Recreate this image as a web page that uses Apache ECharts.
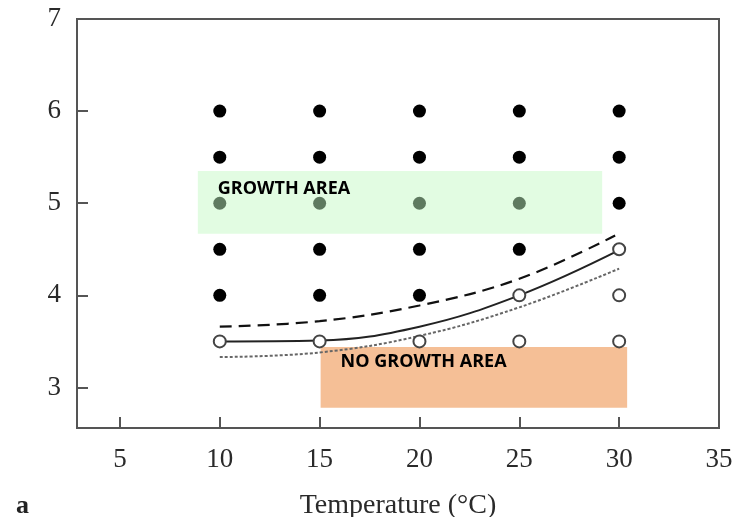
<!DOCTYPE html>
<html>
<head>
<meta charset="utf-8">
<script src="https://cdn.jsdelivr.net/npm/echarts@6/dist/echarts.min.js"></script>
<style>html,body{margin:0;padding:0;background:#fff;}#c{width:736px;height:517px;}</style>
</head>
<body>
<div id="c"></div>
<script>
// ---- data ----
const xTicks = [5, 10, 15, 20, 25, 30, 35];
const yTicks = [3, 4, 5, 6, 7];

const growthTemp = [10,10,10,10,10, 15,15,15,15,15, 20,20,20,20,20, 25,25,25,25, 30,30,30];
const growthPH   = [4,4.5,5,5.5,6,  4,4.5,5,5.5,6,  4,4.5,5,5.5,6,  4.5,5,5.5,6,  5,5.5,6];

const noGrowthTemp = [10, 15, 20, 25, 25, 30, 30, 30];
const noGrowthPH   = [3.5, 3.5, 3.5, 3.5, 4, 3.5, 4, 4.5];

const modelTemp      = [10, 15, 20, 25, 30];
const modelMid       = [3.5, 3.51, 3.66, 4.0, 4.49];
const modelUpperTemp = [10, 15, 20, 25, 29.8];
const modelUpper     = [3.66, 3.72, 3.89, 4.18, 4.65];
const modelLower     = [3.33, 3.38, 3.56, 3.87, 4.29];

const growthAreaX   = [8.9, 29.15];
const growthAreaY   = [4.67, 5.35];
const noGrowthAreaX = [15.05, 30.4];
const noGrowthAreaY = [2.78, 3.44];

// ---- chart ----
const zip = (a, b) => a.map((v, i) => [v, b[i]]);
const inGrowth = (p) => p[0] >= growthAreaX[0] && p[0] <= growthAreaX[1] && p[1] >= growthAreaY[0] && p[1] <= growthAreaY[1];

const chart = echarts.init(document.getElementById('c'), null, {renderer: 'canvas'});
const serif = 'Liberation Serif';
const axisCol = '#555';

chart.setOption({
  animation: false,
  grid: {left: 77, right: 17, top: 19, bottom: 89, outerBoundsMode: 'none', containLabel: false,
         show: true, borderColor: axisCol, borderWidth: 2, backgroundColor: 'transparent'},
  xAxis: {
    type: 'value', min: 2.85, max: 35,
    name: 'Temperature (°C)', nameLocation: 'middle', nameGap: 64,
    nameTextStyle: {fontFamily: serif, fontSize: 28, color: '#2a2a2a'},
    axisLine: {show: true, lineStyle: {color: axisCol, width: 2}},
    axisTick: {show: true, inside: true, length: 11, customValues: xTicks, lineStyle: {color: axisCol, width: 2}},
    axisLabel: {customValues: xTicks, fontFamily: serif, fontSize: 27, color: '#2a2a2a', margin: 18},
    splitLine: {show: false}
  },
  yAxis: {
    type: 'value', min: 2.56, max: 7,
    axisLine: {show: true, lineStyle: {color: axisCol, width: 2}},
    axisTick: {show: true, inside: true, length: 11, customValues: yTicks, lineStyle: {color: axisCol, width: 2}},
    axisLabel: {customValues: yTicks, fontFamily: serif, fontSize: 27, color: '#2a2a2a', margin: 16},
    splitLine: {show: false}
  },
  graphic: [{
    type: 'text', left: 16, top: 493,
    style: {text: 'a', font: 'bold 26px "Liberation Serif"', fill: '#222'}
  }],
  series: [
    {
      type: 'scatter', data: [], z: 1,
      markArea: {
        silent: true,
        data: [
          [{xAxis: growthAreaX[0], yAxis: growthAreaY[1], itemStyle: {color: '#e2fce2', opacity: 1},
            label: {show: true, position: 'insideTopLeft', offset: [15, 4], formatter: 'GROWTH AREA',
                    fontFamily: 'Open Sans', fontWeight: 'bold', fontSize: 18, color: '#000'}},
           {xAxis: growthAreaX[1], yAxis: growthAreaY[0]}],
          [{xAxis: noGrowthAreaX[0], yAxis: noGrowthAreaY[1], itemStyle: {color: '#f5bf96', opacity: 1},
            label: {show: true, position: 'insideTopLeft', offset: [15, 1], formatter: 'NO GROWTH AREA',
                    fontFamily: 'Open Sans', fontWeight: 'bold', fontSize: 18, color: '#000'}},
           {xAxis: noGrowthAreaX[1], yAxis: noGrowthAreaY[0]}]
        ]
      }
    },
    {
      type: 'line', data: zip(modelTemp, modelMid), smooth: 0.4, symbol: 'none', z: 2,
      lineStyle: {color: '#222', width: 2}
    },
    {
      type: 'line', data: zip(modelUpperTemp, modelUpper), smooth: 0.4, symbol: 'none', z: 2,
      lineStyle: {color: '#111', width: 2.2, type: [12, 7]}
    },
    {
      type: 'line', data: zip(modelTemp, modelLower), smooth: 0.4, symbol: 'none', z: 2,
      lineStyle: {color: '#666', width: 2, type: [3, 2]}
    },
    {
      type: 'scatter', data: zip(noGrowthTemp, noGrowthPH), symbol: 'circle', symbolSize: 12, z: 3,
      itemStyle: {color: '#fff', borderColor: '#444', borderWidth: 2, opacity: 1}
    },
    {
      type: 'scatter', data: zip(growthTemp, growthPH), symbol: 'circle', symbolSize: 13, z: 4,
      itemStyle: {color: (p) => inGrowth(p.data) ? '#5f7a60' : '#000', opacity: 1}
    }
  ]
});
</script>
</body>
</html>
